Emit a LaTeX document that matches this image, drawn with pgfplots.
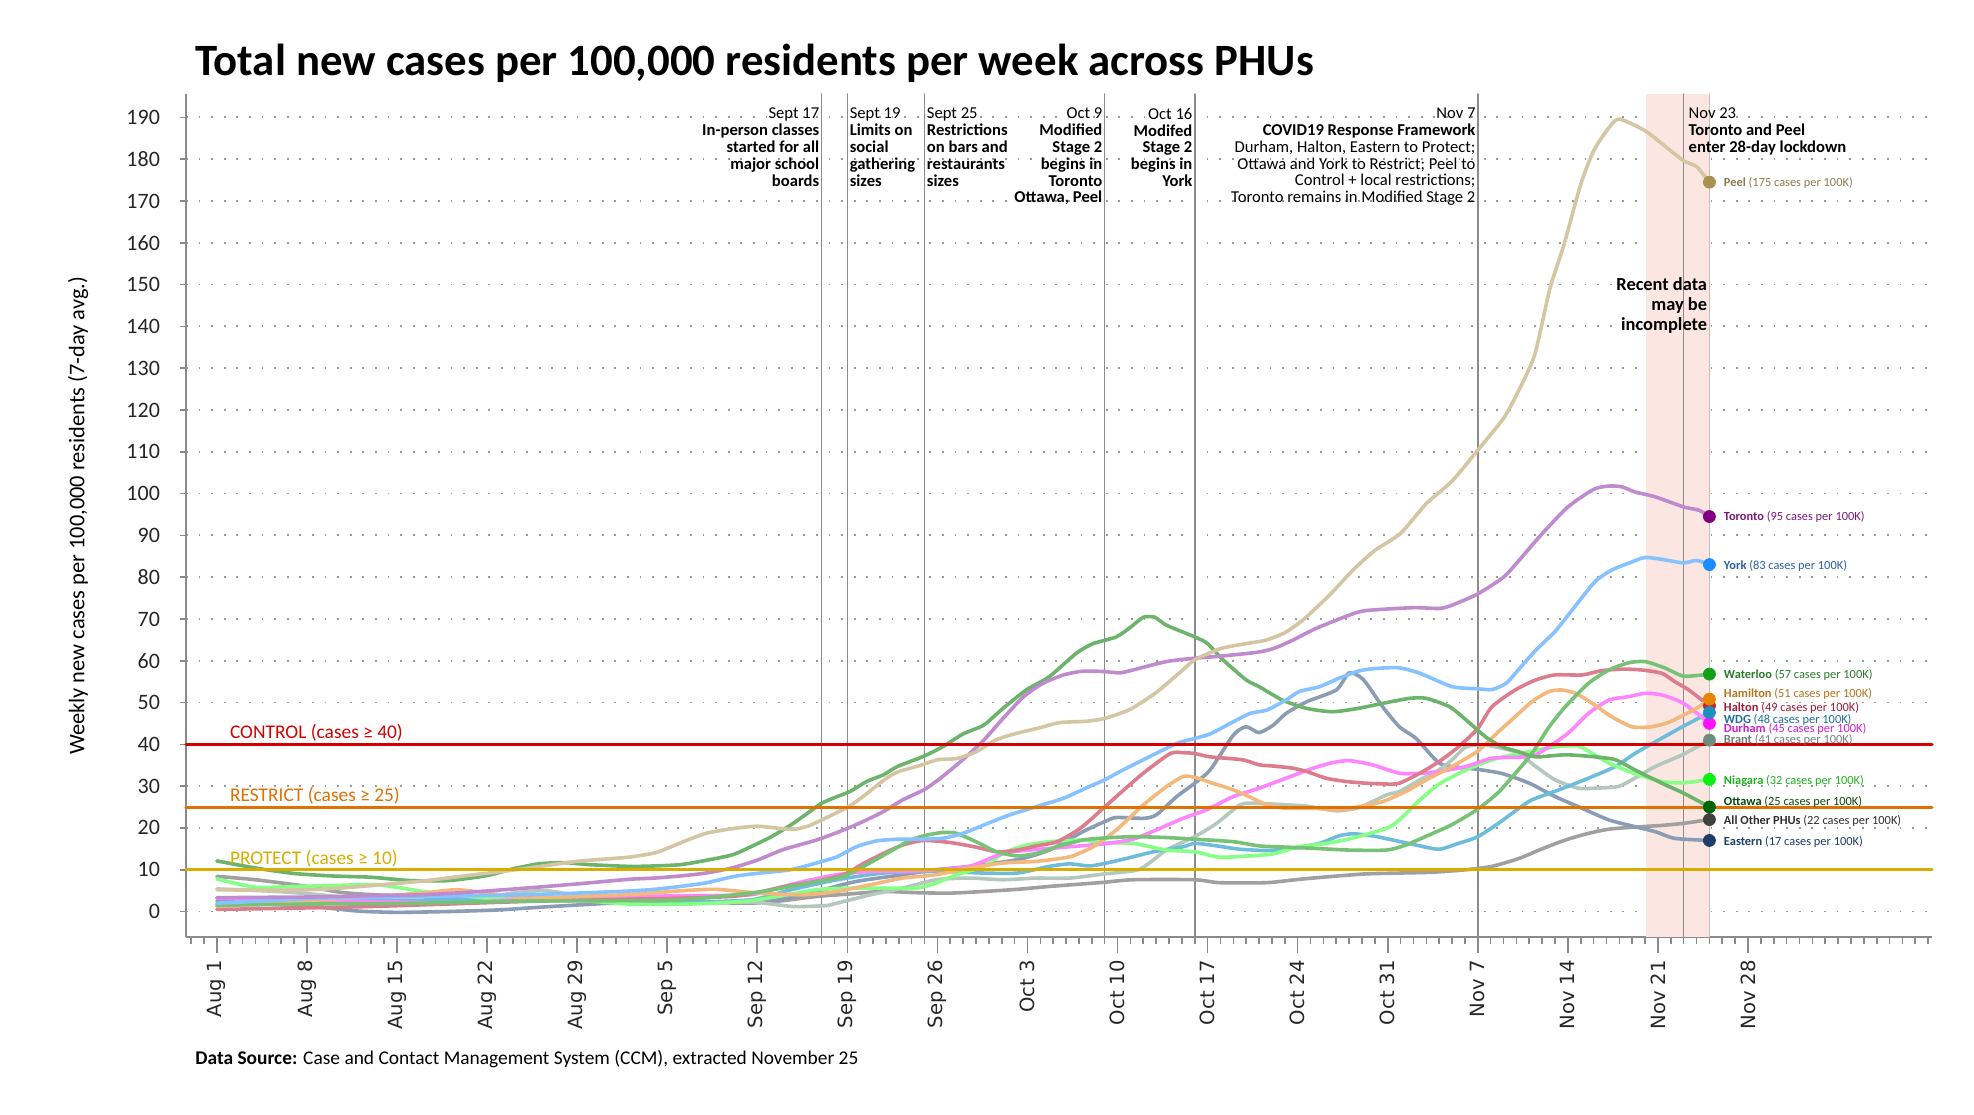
\documentclass[border=0pt]{standalone}
\usepackage{pgfplots}
\pgfplotsset{compat=1.18}
\usepackage{fontspec}
\setmainfont{Carlito}
\newfontfamily\dejavu{DejaVu Sans}
\definecolor{axgray}{HTML}{8A8A8A}
\definecolor{gridc}{HTML}{9A9A9A}
\definecolor{evc}{HTML}{8C8C8C}
\definecolor{shadec}{HTML}{FBE6E2}
\definecolor{ctrl}{HTML}{D40000}
\definecolor{restr}{HTML}{E07000}
\definecolor{prot}{HTML}{D8AC00}
\definecolor{peelL}{HTML}{D4C6A3}\definecolor{peelM}{HTML}{A8904F}\definecolor{peelT}{HTML}{8C7B4E}
\definecolor{torL}{HTML}{C08ACF}\definecolor{torM}{HTML}{800080}\definecolor{torT}{HTML}{7A1A7A}
\definecolor{yorkL}{HTML}{85C2FF}\definecolor{yorkM}{HTML}{1A8CFF}\definecolor{yorkT}{HTML}{2A5FA8}
\definecolor{watL}{HTML}{78C278}\definecolor{watM}{HTML}{14A014}\definecolor{watT}{HTML}{2B7A2B}
\definecolor{hamL}{HTML}{F4B87C}\definecolor{hamM}{HTML}{E88400}\definecolor{hamT}{HTML}{B8741E}
\definecolor{halL}{HTML}{DD7C8C}\definecolor{halM}{HTML}{C8203C}\definecolor{halT}{HTML}{A01838}
\definecolor{wdgL}{HTML}{6EBCDB}\definecolor{wdgM}{HTML}{1E90C0}\definecolor{wdgT}{HTML}{1F6F9A}
\definecolor{durL}{HTML}{FF85FF}\definecolor{durM}{HTML}{FF10FF}\definecolor{durT}{HTML}{D020D0}
\definecolor{braL}{HTML}{B4C8BE}\definecolor{braM}{HTML}{6E8C80}\definecolor{braT}{HTML}{6F7F78}
\definecolor{niaL}{HTML}{85FF85}\definecolor{niaM}{HTML}{10F010}\definecolor{niaT}{HTML}{20B020}
\definecolor{ottL}{HTML}{6CB46C}\definecolor{ottM}{HTML}{006400}\definecolor{ottT}{HTML}{0A4A0A}
\definecolor{othL}{HTML}{A0A0A0}\definecolor{othM}{HTML}{404040}\definecolor{othT}{HTML}{303030}
\definecolor{easL}{HTML}{8A9DB5}\definecolor{easM}{HTML}{1F3D66}\definecolor{easT}{HTML}{1F3D66}
\newcommand{\annfont}{\fontsize{8.3}{8.4}\selectfont}
\newcommand{\labfont}{\fontsize{6.2}{6.5}\selectfont}
\begin{document}
\begin{tikzpicture}
\useasboundingbox (0,0) rectangle (987pt,557pt);
\node[anchor=west, inner sep=0pt, font=\fontsize{22.4}{26}\selectfont\bfseries] at (97.5pt,525.5pt) {Total new cases per 100,000 residents per week across PHUs};
\node[rotate=90, inner sep=0pt, font=\fontsize{11.2}{13}\selectfont] at (39pt,299pt) {Weekly new cases per 100,000 residents (7-day avg.)};
\node[anchor=west, inner sep=0pt, font=\fontsize{9.7}{11}\selectfont] at (97.5pt,27.5pt) {\textbf{Data Source:} Case and Contact Management System (CCM), extracted November 25};
\begin{axis}[
  at={(93pt,88.5pt)}, anchor=south west, scale only axis,
  width=873pt, height=421.5pt,
  xmin=-2.4, xmax=133.3, ymin=-6.1, ymax=195.6,
  axis x line*=bottom, axis y line*=left,
  axis line style={draw=axgray, line width=1.3pt, -},
  xtick={0,7,...,119},
  xticklabels={Aug 1,Aug 8,Aug 15,Aug 22,Aug 29,Sep 5,Sep 12,Sep 19,Sep 26,Oct 3,Oct 10,Oct 17,Oct 24,Oct 31,Nov 7,Nov 14,Nov 21,Nov 28},
  minor xtick={-2,-1,...,133},
  ytick={0,10,...,190},
  tick align=outside,
  major tick length=8pt, minor tick length=3.5pt,
  tick style={draw=axgray, line width=0.8pt},
  every major y tick/.append style={draw=none},
  ymajorgrids,
  grid style={draw=gridc, line width=0.9pt, dash pattern=on 0.9pt off 5.4pt},
  xticklabel style={rotate=90, anchor=east, font=\dejavu\fontsize{9.8}{11}\selectfont, text=black!85},
  yticklabel style={font=\fontsize{11}{12}\selectfont, text=black!85, xshift=-1.5pt},
  /pgf/number format/assume math mode=true,
  clip=false,
  every axis plot/.append style={line join=round, line cap=round},
]
% shaded region
\fill[shadec] (axis cs:111.1,-6.1) rectangle (axis cs:116,195.6);
\pgfplotsinvokeforeach{0,10,...,190}{\draw[axgray, line width=0.8pt] (axis cs:-2.4,#1) -- ++(-3pt,0pt);}
% event lines
\addplot[evc, line width=0.8pt] coordinates {(47,-6.1) (47,195.6)};
\addplot[evc, line width=0.8pt] coordinates {(49,-6.1) (49,195.6)};
\addplot[evc, line width=0.8pt] coordinates {(55,-6.1) (55,195.6)};
\addplot[evc, line width=0.8pt] coordinates {(69,-6.1) (69,195.6)};
\addplot[evc, line width=0.8pt] coordinates {(76,-6.1) (76,195.6)};
\addplot[evc, line width=0.8pt] coordinates {(98,-6.1) (98,195.6)};
\addplot[evc, line width=0.8pt] coordinates {(114,-6.1) (114,195.6)};
\addplot[black!25, line width=0.6pt] coordinates {(116,-6.1) (116,195.6)};

% series
\addplot[othL, line width=1.8pt, smooth, tension=0.4] coordinates {(0,8.4)(3,7.6)(7,6)(9.6,4.6)(12.2,4)(16,3.7)(21,3.6)(26,3.2)(31.6,2.7)(36,2.3)(41.5,2)(44,2.6)(46.6,3.6)(49.2,4.2)(51.8,4.8)(54.4,4.5)(57,4.4)(59.6,4.8)(62.2,5.3)(64.7,6)(67.3,6.6)(69,7)(71.2,7.6)(76,7.6)(77.9,6.9)(81.6,6.9)(84.1,7.7)(86.7,8.4)(89.3,9)(91.9,9.2)(94.5,9.4)(97.1,10)(99.1,10.8)(101.2,12.7)(103,15)(104.8,17.1)(106.6,18.7)(108.2,19.7)(110.2,20.2)(112.3,20.6)(114,21.1)(116,22)};
\addplot[easL, line width=1.8pt, smooth, tension=0.4] coordinates {(0,2.5)(4,1.8)(8,1)(11,0.1)(14,-0.2)(18,0)(22,0.4)(26,1.2)(31.9,2.2)(36,2.6)(41.5,2.1)(44,3)(46.6,4.8)(49.7,7.2)(53.3,8.8)(55.9,10)(58.5,10.8)(62.2,12.4)(64.7,14.7)(67.3,19.1)(69,21.5)(69.9,22.5)(72,22.3)(73,23.1)(74.6,27.5)(76,30.7)(77.2,33.9)(79,42.2)(80,44.2)(81,42.8)(82.1,44.6)(83.1,47.4)(84.7,50.2)(87,53)(88,57.1)(89.1,55.5)(90.6,49)(91.9,44.2)(93.2,41.4)(95,35.5)(96.5,34.5)(98,34)(99.9,33)(102,30.7)(104,27.5)(106.1,24.7)(108.2,21.9)(110.2,20.3)(111.8,19.1)(113.3,17.5)(116,17)};
\addplot[braL, line width=1.8pt, smooth, tension=0.4] coordinates {(0,5.4)(4.7,4.8)(8,4)(12.1,2.8)(18,2.4)(21,3.4)(23,4.4)(25.5,5)(28,3.8)(31.9,2)(36.9,2)(40.3,2.2)(42.2,2.1)(44.8,1.2)(47.3,1.4)(48.2,2)(50.8,4)(53.3,5.6)(55.9,7.6)(58.5,8)(61.1,7.6)(63.7,8)(66.3,8)(69,9)(71.7,10.1)(73.8,14.7)(76,17.9)(77.7,21.1)(79.5,25.5)(80.5,25.9)(82.1,25.7)(84.7,25.2)(87,24.1)(88.8,24.9)(90.9,27.9)(91.9,28.7)(93.5,31.5)(95,33.9)(96,36.3)(97.1,39.4)(98.6,39.8)(100.9,38.2)(102.5,34.7)(104,31.5)(105.8,29.5)(107.1,29.5)(108.9,29.9)(110.2,31.9)(111.8,34.7)(113.9,37.5)(116,41)};
\addplot[wdgL, line width=1.8pt, smooth, tension=0.4] coordinates {(0,1.8)(6,2.2)(12,2.6)(18,2.8)(24,3)(30,2.6)(36,2.2)(41.5,2.8)(44.6,5.2)(48.2,7.6)(51.8,9.2)(55.9,9.6)(59.6,9.2)(62.2,9.2)(64.7,10.8)(66.3,11.4)(67.8,10.9)(69,11.5)(70.7,12.7)(72.8,14.3)(75.1,15.5)(76,16.3)(77.7,15.7)(79.5,14.9)(81.6,14.6)(83.6,15.1)(85.7,16.3)(87.2,18.1)(88.3,18.6)(89.8,18.1)(91.4,17.1)(93.5,15.7)(95,14.9)(96.5,16.3)(98,17.9)(99.6,21.1)(101.2,24.7)(102.2,26.7)(104.3,29.1)(106.6,31.9)(108.7,34.7)(110.2,37.8)(111.8,40.6)(113.9,44.2)(116,47.6)};
\addplot[niaL, line width=1.8pt, smooth, tension=0.4] coordinates {(0,7.8)(3,5.8)(6,6)(9,6.2)(12.5,6.4)(16,4.8)(19,3.8)(22,3)(27,3)(31.9,1.8)(36.9,1.8)(41.5,2.6)(46.6,5.2)(49.2,5.6)(51.8,5.6)(54.4,5.6)(55.9,6.8)(57.5,8.8)(59.6,10.8)(61.1,13.9)(62.7,15.7)(64.7,16.7)(67.3,17.1)(68.6,16.5)(71.2,16.3)(73.8,14.7)(76,14.3)(77.9,13)(80.3,13.3)(82.1,13.8)(84.1,15.5)(86.2,16.3)(88.2,17.5)(90.9,19.9)(91.9,21.9)(93.5,26.7)(95,30.5)(97.1,33.9)(99.1,36.3)(101.2,37.8)(102,38.2)(104,39.4)(105.8,39.6)(106.9,37.8)(108.2,35.5)(110.2,33)(112.3,31.1)(114,30.8)(116,31.6)};
\addplot[durL, line width=1.8pt, smooth, tension=0.4] coordinates {(0,3.2)(6,2.8)(12,2.4)(18.7,2)(22,2.6)(26.4,3.2)(32,3.6)(38,3.8)(41.5,4)(43.5,5.5)(45.6,7.2)(48.2,8.8)(50.8,9.6)(53.3,9.6)(55.9,10)(58.5,10.8)(61.1,13.9)(63.2,14.7)(66.3,15.5)(69,16.2)(71.2,17.3)(73,19.5)(75.1,22.3)(76.9,24.3)(79,27.5)(81,29.5)(83.1,31.9)(85.2,34.3)(86.7,35.6)(88,36.1)(89.8,35.1)(91.9,33.1)(93.7,33.1)(95,33.5)(97.1,34.7)(99.1,36.7)(101.2,36.9)(102.5,37.5)(103.5,39.4)(105,42.6)(106.6,47.4)(108.2,50.6)(109.7,51.4)(111,52.2)(112.3,51.8)(114,49.8)(116,45)};
\addplot[halL, line width=1.8pt, smooth, tension=0.4] coordinates {(0,0.5)(6,0.8)(12,1.2)(18,1.8)(24,2.4)(30,2.8)(36,3.2)(40,3.6)(42,4.5)(44.1,6)(46.6,7.2)(48.7,8.8)(50.2,11.4)(51.8,13.9)(53.3,15.9)(54.9,17)(57,16.5)(59,15.4)(60.6,14.3)(62.2,14.7)(63.7,15.7)(65.3,16.7)(67.1,19.9)(69,25)(70.2,28.3)(72,33.1)(74.1,37.8)(75.1,38)(76,37.8)(77.2,37)(79.7,36.3)(81,35.1)(82.1,34.8)(83.6,34.3)(84.7,33.5)(86.2,31.9)(87.8,31.1)(89.3,30.7)(90.9,30.5)(91.9,30.7)(93.5,33.1)(95,35.9)(96.5,39.4)(98,43.8)(99.1,49)(100.9,53)(102.5,55.4)(104,56.6)(106.1,56.6)(107.6,57.6)(109.2,58)(110.7,57.8)(112.3,57)(113.3,55)(114.4,53)(116,49.2)};
\addplot[hamL, line width=1.8pt, smooth, tension=0.4] coordinates {(0,1.2)(4,2)(8,2.8)(12,3.6)(16,4.4)(18.7,5.2)(22,4)(24,3.2)(28,3.6)(31.6,4)(33.7,4.4)(36.3,5)(38.8,5.3)(42.2,4.4)(45.6,4)(48.2,4.8)(50.8,6.4)(53.3,8)(55.9,8.8)(58.5,10.4)(61.1,11.6)(63.7,12)(66.3,13.1)(68.1,15.5)(69.9,19.5)(72,25.5)(73.8,29.9)(75.1,32.3)(76,32.1)(77.4,30.7)(79,29.1)(80.5,27.1)(81.6,25.5)(83.1,24.7)(85.4,24.7)(87,24.3)(88.8,25.1)(90.6,26.3)(92.4,28.7)(94,31.5)(96,34.7)(98,38.4)(99.6,43)(100.9,46.6)(102.2,50.2)(103.5,52.6)(104.5,53)(105.6,52.2)(106.9,49.8)(108.4,46.6)(110,44.2)(111.5,44.2)(112.8,45.2)(114,47)(115.2,49)(116,50.8)};
\addplot[watL, line width=1.8pt, smooth, tension=0.4] coordinates {(0,1.5)(8,1.8)(16,2)(24,2.5)(32,2.6)(36,2.8)(41.5,4.4)(44.6,6)(46.6,7.2)(48.7,8.4)(50.5,11.2)(52.3,14.3)(53.9,17.1)(55.2,18.3)(56.4,18.9)(57.5,18.7)(59,16.7)(60.6,14.3)(62.2,13.3)(63.7,13.9)(65.3,15.5)(67.3,17.1)(69,17.6)(71.2,17.9)(73.8,17.7)(76,17.3)(79,16.7)(81,15.7)(83.1,15.4)(85.4,15.1)(88,14.7)(90.9,14.7)(92.4,15.9)(94.5,18.7)(96,20.8)(98,24.5)(99.6,28.5)(100.9,33)(102.2,37.8)(103.5,44)(104.8,49)(106.6,54.6)(108.2,57.8)(109.7,59.5)(111,59.8)(112.6,58.2)(114,56.3)(116,56.8)};
\addplot[ottL, line width=1.8pt, smooth, tension=0.4] coordinates {(0,12.1)(3,10.4)(6,9.1)(9,8.5)(12,8.2)(15,7.4)(18,7.4)(21,8.6)(23,10.2)(25,11.4)(27,11.7)(29,11.2)(32,10.8)(34,10.9)(36,11.2)(37.6,12)(40,13.5)(41.5,15.5)(43.1,17.9)(44.6,20.7)(45.9,23.5)(47,25.9)(48.2,27.5)(49.2,28.7)(50.5,31.1)(51.8,32.7)(52.9,34.7)(54.9,37.1)(56.4,39.4)(58,42.5)(59.6,44.6)(61.1,48.6)(62.9,53)(64.7,56.2)(66.8,61.8)(68.1,64.1)(69.9,65.7)(71,68)(72,70.4)(72.9,70.4)(73.8,68.5)(76,65.7)(77,64.1)(78.2,60.2)(80,55.4)(81,53.8)(82.8,50.6)(84.7,48.6)(86.7,47.8)(88.7,48.6)(90.6,49.8)(92.7,51)(94,51)(95.8,49)(97.1,45.8)(98.6,41.8)(99.9,39.4)(101.2,38.2)(102.5,37)(104.8,37.5)(107.1,37)(108.7,36.3)(110.2,33.9)(112.3,30.7)(114,28.3)(116,25)};
\addplot[yorkL, line width=1.8pt, smooth, tension=0.4] coordinates {(0,2)(4,2.6)(8,3.2)(12,3.4)(16,3.6)(20,3.8)(24,4)(28,4.4)(32,4.9)(34,5.3)(36.3,6.1)(38.1,6.9)(40.2,8.4)(42.2,9.2)(44.6,10)(46.6,11.6)(48.2,13.1)(49.7,15.5)(51.3,16.9)(53,17.3)(54.4,17.3)(56.4,17.5)(58,18.7)(59.6,20.7)(61.6,23.1)(63.7,25.1)(65.8,27.1)(67.8,29.9)(69,31.5)(70.2,33.5)(72,36.3)(74.6,40.2)(76,41.4)(77.2,42.5)(79,45.4)(80.3,47.4)(81.6,48.2)(83.1,50.6)(84.1,52.6)(85.7,53.8)(87.2,55.8)(88.8,57.6)(90.3,58.2)(91.9,58.3)(93.5,57)(96,53.8)(98,53.3)(99.1,53.1)(100.2,54.6)(101.2,58)(102.5,62.5)(104,67)(105.3,72)(107.1,78.9)(108.4,81.7)(109.7,83.3)(111,84.7)(112.6,84.1)(114,83.4)(115,84)(116,83)};
\addplot[torL, line width=1.8pt, smooth, tension=0.4] coordinates {(0,3.3)(4,3.4)(8,3.5)(12,3.8)(16,4)(20,4.7)(24,5.6)(28,6.6)(32,7.7)(34,8)(36,8.5)(38,9.2)(40,10.4)(42,12.3)(44,14.8)(46.6,17.1)(48.7,19.5)(50.2,21.5)(51.8,23.9)(53.3,26.7)(55,29.2)(56.4,32.3)(58,36.4)(59.6,41)(61.1,46.2)(62.7,51.4)(64.2,54.6)(65.8,56.6)(67.3,57.5)(69,57.4)(70.2,57.1)(71.2,57.8)(73.8,59.8)(76,60.6)(78,61.1)(80.8,62)(82.1,62.9)(83.6,64.9)(85.4,67.7)(88,70.9)(89.3,72)(93,72.7)(95,72.5)(96,73.3)(98,76)(100,80)(101.2,84)(103,90.4)(105,96.8)(107,101)(108.2,101.8)(109.2,101.6)(110.2,100.4)(111.8,99.2)(114,96.8)(115.2,96)(116,94.5)};
\addplot[peelL, line width=1.8pt, smooth, tension=0.4] coordinates {(0,5.2)(4,5.1)(8,5.3)(12,6.2)(16,7.3)(20,8.8)(24,10.3)(28,12)(32,13)(34,14)(35,15.1)(36.5,17)(38,18.7)(40,19.8)(42,20.4)(44,19.8)(45,19.7)(46,20.5)(47,21.9)(48,23.4)(49,24.9)(50,27)(52,31.8)(53,33.5)(54.5,34.8)(56,36.3)(57.5,36.6)(59,38.2)(60.5,41)(62,42.5)(64,44)(65.5,45.2)(67.5,45.5)(69,46.2)(71,48.4)(73,52.4)(75,57.6)(76,60.2)(78,62.9)(80,64.1)(81.5,64.9)(83,66.7)(84.5,70)(86.5,75.8)(88.3,81.7)(90,86.4)(92,90.5)(94,97.6)(96,103)(98,110.4)(100,118)(101,123.6)(102.4,133)(103.6,149)(104.7,159.6)(106,174)(107,182)(108.2,187.6)(109,189.6)(111,186.8)(113,182)(114,179.6)(115,178.2)(116,174.5)};

% thresholds
\addplot[ctrl, line width=1.5pt] coordinates {(-2.4,40) (133.3,40)};
\addplot[restr, line width=1.5pt] coordinates {(-2.4,25) (133.3,25)};
\addplot[prot, line width=1.5pt] coordinates {(-2.4,10) (133.3,10)};
\node[anchor=south west, inner sep=0.6pt, text=ctrl, font=\fontsize{9.7}{11}\selectfont] at (axis cs:0.9,40.3) {CONTROL (cases ≥ 40)};
\node[anchor=south west, inner sep=0.6pt, text=restr, font=\fontsize{9.7}{11}\selectfont] at (axis cs:0.9,25.3) {RESTRICT (cases ≥ 25)};
\node[anchor=south west, inner sep=0.6pt, text=prot, font=\fontsize{9.7}{11}\selectfont] at (axis cs:0.9,10.3) {PROTECT (cases ≥ 10)};

% end markers
\addplot[only marks, mark=*, mark size=3pt, color=peelM] coordinates {(116,174.5)};
\addplot[only marks, mark=*, mark size=3pt, color=torM] coordinates {(116,94.5)};
\addplot[only marks, mark=*, mark size=3pt, color=yorkM] coordinates {(116,83)};
\addplot[only marks, mark=*, mark size=3pt, color=watM] coordinates {(116,56.8)};
\addplot[only marks, mark=*, mark size=3pt, color=halM] coordinates {(116,49.2)};
\addplot[only marks, mark=*, mark size=3pt, color=hamM] coordinates {(116,50.8)};
\addplot[only marks, mark=*, mark size=3pt, color=durM] coordinates {(116,45)};
\addplot[only marks, mark=*, mark size=3pt, color=wdgM] coordinates {(116,47.6)};
\addplot[only marks, mark=*, mark size=3pt, color=braM] coordinates {(116,41)};
\addplot[only marks, mark=*, mark size=3pt, color=niaM] coordinates {(116,31.6)};
\addplot[only marks, mark=*, mark size=3pt, color=ottM] coordinates {(116,25)};
\addplot[only marks, mark=*, mark size=3pt, color=othM] coordinates {(116,22)};
\addplot[only marks, mark=*, mark size=3pt, color=easM] coordinates {(116,17)};

% end labels
\node[anchor=west, inner sep=0pt, text=peelT, font=\labfont] at (axis cs:117.1,174.4) {\textbf{Peel} (175 cases per 100K)};
\node[anchor=west, inner sep=0pt, text=torT, font=\labfont] at (axis cs:117.1,94.4) {\textbf{Toronto} (95 cases per 100K)};
\node[anchor=west, inner sep=0pt, text=yorkT, font=\labfont] at (axis cs:117.1,82.7) {\textbf{York} (83 cases per 100K)};
\node[anchor=west, inner sep=0pt, text=watT, font=\labfont] at (axis cs:117.1,56.7) {\textbf{Waterloo} (57 cases per 100K)};
\node[anchor=west, inner sep=0pt, text=hamT, font=\labfont] at (axis cs:117.1,52.1) {\textbf{Hamilton} (51 cases per 100K)};
\node[anchor=west, inner sep=0pt, text=halT, font=\labfont] at (axis cs:117.1,48.8) {\textbf{Halton} (49 cases per 100K)};
\node[anchor=west, inner sep=0pt, text=wdgT, font=\labfont] at (axis cs:117.1,45.8) {\textbf{WDG} (48 cases per 100K)};
\node[anchor=west, inner sep=0pt, text=durT, font=\labfont] at (axis cs:117.1,43.7) {\textbf{Durham} (45 cases per 100K)};
\node[anchor=west, inner sep=0pt, text=braT, font=\labfont] at (axis cs:117.1,41.0) {\textbf{Brant} (41 cases per 100K)};
\node[anchor=west, inner sep=0pt, text=niaT, font=\labfont] at (axis cs:117.1,31.3) {\textbf{Niagara} (32 cases per 100K)};
\node[anchor=west, inner sep=0pt, text=ottT, font=\labfont] at (axis cs:117.1,26.3) {\textbf{Ottawa} (25 cases per 100K)};
\node[anchor=west, inner sep=0pt, text=othT, font=\labfont] at (axis cs:117.1,21.7) {\textbf{All Other PHUs} (22 cases per 100K)};
\node[anchor=west, inner sep=0pt, text=easT, font=\labfont] at (axis cs:117.1,16.7) {\textbf{Eastern} (17 cases per 100K)};

% event annotations
\node[anchor=north east, align=right, inner sep=1pt, font=\annfont] at (axis cs:47,192.8) {Sept 17\\\textbf{In-person classes}\\\textbf{started for all}\\\textbf{major school}\\\textbf{boards}};
\node[anchor=north west, align=left, inner sep=1pt, font=\annfont] at (axis cs:49,192.8) {Sept 19\\\textbf{Limits on}\\\textbf{social}\\\textbf{gathering}\\\textbf{sizes}};
\node[anchor=north west, align=left, inner sep=1pt, font=\annfont] at (axis cs:55,192.8) {Sept 25\\\textbf{Restrictions}\\\textbf{on bars and}\\\textbf{restaurants}\\\textbf{sizes}};
\node[anchor=north east, align=right, inner sep=1pt, font=\annfont] at (axis cs:69,192.8) {Oct 9\\\textbf{Modified}\\\textbf{Stage 2}\\\textbf{begins in}\\\textbf{Toronto}\\\textbf{Ottawa, Peel}};
\node[anchor=north east, align=right, inner sep=1pt, font=\annfont] at (axis cs:76,192.8) {Oct 16\\\textbf{Modifed}\\\textbf{Stage 2}\\\textbf{begins in}\\\textbf{York}};
\node[anchor=north east, align=right, inner sep=1pt, font=\annfont] at (axis cs:98,192.8) {Nov 7\\\textbf{COVID19 Response Framework}\\Durham, Halton, Eastern to Protect;\\Ottawa and York to Restrict; Peel to\\Control + local restrictions;\\Toronto remains in Modified Stage 2};
\node[anchor=north west, align=left, inner sep=1pt, font=\annfont] at (axis cs:114.2,192.8) {Nov 23\\\textbf{Toronto and Peel}\\\textbf{enter 28-day lockdown}};
\node[anchor=north east, align=right, inner sep=1pt, font=\fontsize{9.2}{10}\selectfont\bfseries] at (axis cs:116,152.2) {Recent data\\may be\\incomplete};
\end{axis}
\end{tikzpicture}
\end{document}
